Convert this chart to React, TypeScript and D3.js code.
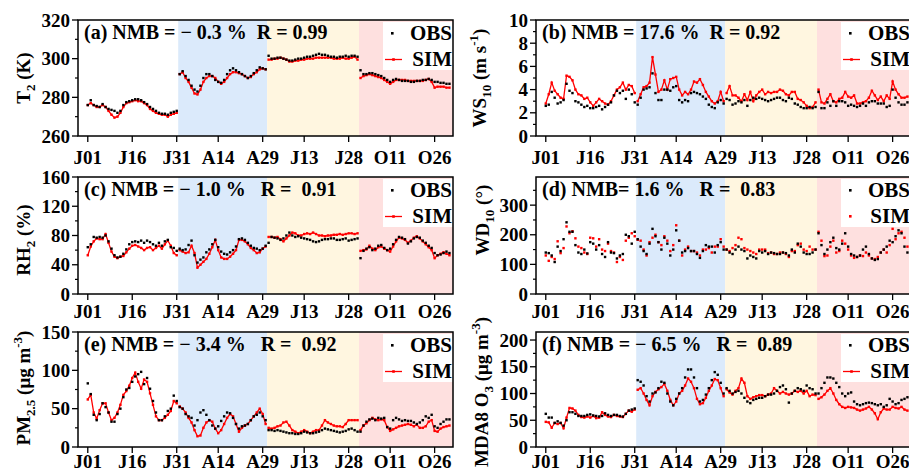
import React from "react";
import * as d3 from "d3";

// calendar layout: Jan, Apr, Jul, Oct concatenated (day index 0..122)
const MONTH_LENGTHS = [31, 30, 31, 31];
const TICK_LABELS = ["J01", "J16", "J31", "A14", "A29", "J13", "J28", "O11", "O26"];
const TICK_DAYS = [0, 15, 30, 44, 59, 73, 88, 102, 117];

const T2_OBS = [
  276, 278.5, 276, 275.5, 275, 276.5, 275, 274, 273.5, 273, 272, 273, 276, 277.5, 278, 278.5, 279, 279, 278.5, 277.5, 276.5, 275, 274, 273, 272, 271.5, 271.5, 271, 272, 272.5, 273,
  292, 293.5, 291, 289, 286, 284, 283, 286, 290, 292, 292, 291, 289, 288, 287.5, 289, 292, 294, 295, 294, 293, 292, 291, 290, 291, 292.5, 294, 295.5, 295, 294.5,
  301.5, 300, 300, 300.5, 300.5, 300, 299.5, 299, 299, 299.5, 300, 300, 300.5, 301, 301, 301.5, 302, 302.5, 302, 302, 301.5, 301, 301, 300.5, 301, 301, 301.5, 301, 301.5, 301.5, 301,
  294, 292, 292, 292.5, 292.5, 292, 291.5, 291, 290, 289, 288, 289, 289.5, 289, 288.5, 288.5, 288.5, 288, 288, 288.5, 288.5, 289, 289, 289.5, 289, 288, 288, 287.5, 287.5, 287, 287,
];
const T2_SIM = [
  276, 277, 276, 275, 275, 276, 275, 273, 271, 269.5, 270, 272, 275, 277, 277.5, 278, 278.5, 278, 278, 277, 276, 274, 273, 272, 271.5, 271, 271, 270, 271, 271.5, 272,
  292, 293, 290, 288, 285, 282, 281.5, 284, 288, 290, 291, 291, 290, 288, 287, 288, 290, 292, 293, 293, 292.5, 292, 291, 290, 290.5, 292, 293, 294.5, 295, 294.5,
  299.5, 299.5, 300, 300, 300.5, 300, 299.5, 298.5, 298.5, 299, 299, 299.5, 299.5, 300, 300, 300, 300.5, 300.5, 300.5, 300.5, 300.5, 300.5, 300, 300, 300, 300.5, 300, 300, 300.5, 301, 299.5,
  290, 291, 291.5, 292, 291.5, 291, 290.5, 290, 289, 288, 287, 288, 289, 289, 289, 289, 288.5, 288.5, 288.5, 288.5, 288.5, 288.5, 289, 289.5, 288, 285, 285.5, 285.5, 285.5, 285, 285,
];

const WS_OBS = [
  2.6, 2.7, 3.8, 3.3, 2.8, 2.9, 3.1, 4.5, 3.9, 3.7, 3.0, 2.9, 2.7, 2.5, 2.6, 2.4, 2.4, 2.5, 2.6, 2.3, 2.5, 2.7, 2.9, 3.5, 3.9, 3.7, 3.9, 3.2, 4.0, 3.6, 2.9,
  2.7, 3.3, 4.0, 4.1, 4.2, 5.4, 3.7, 3.1, 3.1, 4.0, 4.0, 3.9, 4.2, 4.3, 3.1, 2.9, 3.1, 3.0, 3.7, 3.8, 3.7, 3.6, 3.4, 3.2, 2.7, 2.5, 2.4, 2.9, 3.1, 2.8,
  3.2, 3.1, 2.7, 2.8, 3.0, 2.9, 3.1, 2.6, 3.1, 3.3, 3.2, 3.3, 3.2, 3.1, 3.0, 3.1, 3.2, 3.3, 3.3, 3.1, 3.0, 3.3, 3.2, 2.8, 2.7, 2.5, 2.4, 2.4, 2.5, 2.4, 2.5,
  3.8, 2.4, 2.4, 2.9, 2.6, 3.0, 2.6, 3.0, 3.0, 2.9, 2.6, 2.7, 2.6, 2.5, 2.6, 2.8, 2.6, 2.9, 3.0, 3.0, 2.8, 2.8, 2.8, 2.5, 2.6, 4.0, 3.3, 2.9, 2.7, 2.7, 2.9,
];
const WS_SIM = [
  2.8, 3.6, 4.6, 3.9, 3.6, 3.3, 3.2, 5.2, 5.1, 4.8, 4.0, 3.6, 3.5, 3.2, 3.3, 2.9, 2.6, 2.9, 3.2, 3.0, 2.8, 2.7, 3.0, 3.5, 4.0, 4.2, 4.6, 4.0, 4.4, 4.3, 3.7,
  3.0, 3.6, 4.2, 4.3, 4.6, 6.8, 5.3, 3.8, 4.0, 4.8, 4.0, 4.9, 5.0, 5.1, 4.0, 3.5, 3.8, 3.6, 4.0, 4.7, 4.6, 4.9, 4.4, 3.8, 3.4, 3.0, 2.8, 3.0, 3.8, 3.0,
  3.7, 4.3, 3.5, 3.5, 3.3, 3.0, 3.6, 3.1, 3.8, 3.0, 3.5, 3.8, 4.0, 3.6, 3.8, 3.7, 3.8, 3.8, 4.0, 3.9, 3.6, 3.5, 3.8, 3.8, 3.2, 3.1, 2.9, 2.6, 2.4, 2.5, 2.9,
  4.0, 2.9, 2.8, 3.2, 3.6, 3.0, 2.9, 3.2, 3.3, 3.8, 3.4, 3.3, 3.5, 2.8, 2.8, 2.9, 3.0, 3.3, 3.9, 3.5, 3.1, 3.4, 3.0, 3.5, 3.2, 4.7, 4.0, 3.6, 3.3, 3.3, 3.4,
];

const RH_OBS = [
  64, 68, 78, 77, 78, 77, 80, 72, 62, 53, 50, 51, 55, 61, 68, 71, 72, 71, 73, 70, 73, 71, 68, 66, 70, 66, 72, 74, 64, 63, 59,
  62, 60, 61, 67, 73, 53, 43, 47, 50, 57, 61, 68, 74, 64, 58, 55, 54, 57, 60, 65, 75, 76, 74, 70, 66, 63, 62, 60, 62, 66,
  70, 78, 77, 76, 74, 76, 80, 84, 80, 78, 79, 77, 76, 75, 74, 72, 71, 72, 74, 75, 75, 76, 76, 74, 74, 75, 76, 73, 74, 75, 76,
  49, 59, 62, 64, 60, 62, 66, 67, 63, 60, 62, 68, 74, 78, 77, 75, 69, 72, 76, 78, 77, 73, 70, 66, 63, 56, 53, 54, 56, 58, 56,
];
const RH_SIM = [
  53, 65, 72, 76, 75, 75, 82, 70, 58, 51, 49, 51, 52, 57, 62, 66, 67, 65, 63, 60, 63, 64, 60, 63, 66, 62, 68, 73, 66, 56, 53,
  60, 58, 56, 57, 66, 56, 36, 40, 44, 48, 55, 64, 74, 60, 50, 48, 48, 51, 55, 60, 74, 74, 72, 68, 63, 60, 56, 57, 62, 65,
  78, 78, 77, 78, 75, 72, 76, 80, 84, 83, 80, 80, 82, 83, 82, 84, 82, 80, 80, 79, 80, 80, 81, 81, 82, 81, 82, 83, 83, 82, 83,
  59, 60, 61, 66, 62, 60, 64, 65, 62, 60, 58, 65, 72, 77, 76, 74, 70, 73, 77, 79, 76, 72, 68, 64, 60, 49, 53, 55, 57, 55, 53,
];

const WD_OBS = [
  140, 138, 130, 108, 160, 145, 185, 242, 210, 210, 165, 140, 135, 150, 137, 175, 170, 150, 165, 135, 125, 175, 140, 138, 120, 130, 135, 200, 195, 170, 210,
  185, 160, 145, 135, 170, 220, 195, 175, 150, 190, 170, 130, 150, 215, 180, 140, 145, 155, 145, 145, 135, 122, 145, 165, 160, 160, 140, 165, 175, 150,
  150, 140, 135, 150, 160, 150, 145, 120, 130, 125, 120, 145, 140, 145, 135, 140, 138, 135, 135, 140, 138, 130, 150, 140, 170, 160, 140, 135, 135, 140, 150,
  205, 165, 135, 150, 175, 190, 155, 150, 170, 205, 160, 135, 130, 125, 130, 150, 160, 135, 120, 115, 118, 140, 150, 160, 180, 175, 195, 215, 205, 160, 140,
];
const WD_SIM = [
  130, 112, 125, 118, 178, 138, 155, 228, 205, 212, 188, 160, 155, 140, 135, 190, 188, 160, 185, 150, 145, 170, 145, 140, 108, 125, 115, 180, 190, 205, 195,
  183, 180, 150, 130, 175, 190, 200, 175, 165, 195, 180, 145, 165, 232, 180, 130, 150, 160, 145, 145, 140, 130, 150, 150, 155, 140, 160, 160, 185, 160,
  150, 145, 155, 165, 190, 185, 155, 150, 145, 140, 135, 150, 150, 150, 138, 140, 135, 135, 140, 140, 135, 125, 145, 145, 165, 170, 150, 145, 160, 150, 150,
  210, 180, 128, 130, 160, 180, 140, 145, 180, 170, 150, 130, 122, 125, 130, 128, 140, 130, 120, 118, 125, 140, 150, 140, 165, 220, 185, 205, 210, 190, 160,
];

const PM_OBS = [
  83, 69, 42, 35, 43, 57, 52, 45, 33, 33, 43, 50, 65, 75, 77, 85, 92, 95, 98, 82, 90, 76, 60, 45, 35, 35, 40, 47, 50, 67, 60,
  52, 50, 43, 40, 38, 28, 35, 45, 48, 42, 35, 28, 24, 27, 34, 40, 45, 44, 38, 30, 24, 27, 28, 30, 35, 40, 42, 45, 40, 35,
  22, 22, 21, 22, 21, 20, 19, 18, 18, 17, 17, 18, 20, 19, 18, 18, 19, 20, 22, 24, 23, 22, 21, 20, 19, 20, 21, 23, 24, 22, 20,
  20, 28, 33, 36, 37, 35, 38, 37, 38, 26, 24, 35, 38, 36, 34, 35, 34, 34, 32, 30, 32, 35, 40, 38, 42, 27, 25, 30, 33, 36, 36,
];
const PM_SIM = [
  62, 68, 45, 37, 48, 57, 57, 45, 35, 38, 45, 55, 68, 73, 80, 90, 97, 85, 76, 88, 85, 70, 55, 40, 35, 35, 38, 42, 47, 60, 57,
  53, 50, 45, 38, 32, 22, 14, 15, 25, 32, 35, 33, 24, 18, 22, 30, 38, 43, 40, 30, 20, 25, 28, 30, 35, 40, 45, 50, 43, 30,
  25, 24, 25, 27, 28, 32, 33, 28, 22, 20, 18, 20, 22, 20, 18, 20, 22, 22, 28, 35, 32, 30, 28, 27, 27, 26, 30, 35, 35, 35, 35,
  22, 28, 31, 35, 38, 36, 35, 36, 35, 26, 21, 23, 25, 27, 28, 29, 30, 29, 27, 29, 25, 25, 27, 33, 35, 21, 20, 24, 26, 27, 28,
];

const O3_OBS = [
  62, 55, 55, 45, 48, 45, 40, 50, 65, 65, 62, 58, 58, 58, 60, 61, 59, 58, 57, 58, 63, 60, 58, 60, 60, 58, 57, 62, 68, 70, 72,
  125, 122, 115, 95, 85, 100, 102, 110, 122, 120, 100, 85, 78, 90, 100, 110, 130, 145, 145, 130, 110, 85, 88, 98, 110, 125, 140, 135, 120, 100,
  110, 105, 100, 103, 105, 100, 92, 85, 82, 88, 90, 92, 92, 95, 98, 98, 100, 105, 112, 115, 108, 83, 100, 105, 110, 108, 105, 115, 110, 108, 100,
  100, 110, 120, 130, 130, 128, 120, 112, 100, 95, 100, 102, 85, 80, 78, 80, 82, 83, 82, 80, 78, 80, 75, 78, 90, 85, 80, 82, 88, 90, 93,
];
const O3_SIM = [
  47, 46, 36, 45, 43, 45, 35, 55, 73, 72, 68, 60, 56, 55, 57, 55, 58, 54, 55, 65, 60, 57, 56, 60, 58, 57, 56, 62, 68, 66, 70,
  107, 110, 100, 88, 78, 95, 103, 108, 112, 118, 105, 88, 78, 85, 100, 105, 115, 128, 122, 110, 90, 80, 82, 92, 105, 115, 127, 125, 110, 95,
  108, 102, 98, 105, 110, 128, 120, 95, 90, 93, 95, 97, 97, 95, 98, 100, 110, 105, 100, 103, 100, 98, 100, 105, 103, 105, 100, 105, 95, 98, 97,
  90, 93, 98, 105, 110, 100, 88, 80, 75, 73, 75, 74, 73, 70, 68, 70, 72, 75, 70, 63, 52, 65, 72, 70, 70, 75, 73, 72, 75, 70, 68,
];

const FONT = "'Liberation Serif', 'Times New Roman', serif";
const PANEL_W = 375;
const X_DOMAIN = [-3.3, 123.2];
const SHADES = ["#dbeafb", "#fff6e0", "#fee0df"];

// label pieces: [text, shift] where shift 0 = normal, 1 = subscript, -1 = superscript
type Piece = [string, number];

const PANELS = [
  {
    left: 78, top: 20, bottom: 136, yDomain: [260, 320], major: [260, 280, 300, 320], minor: [270, 290, 310],
    obs: T2_OBS, sim: T2_SIM, dotsOnly: false, text: "(a) NMB = \u2212 0.3 %  R = 0.99", xlab: 28,
    ylab: { x: 24, y: 78, p: [["T", 0], ["2", 1], [" (K)", 0]] as Piece[] },
  },
  {
    left: 536, top: 20, bottom: 136, yDomain: [0, 10], major: [0, 2, 4, 6, 8, 10], minor: [1, 3, 5, 7, 9],
    obs: WS_OBS, sim: WS_SIM, dotsOnly: false, text: "(b) NMB = 17.6 %  R = 0.92", xlab: 28,
    ylab: { x: 480, y: 78, p: [["WS", 0], ["10", 1], [" (m s", 0], ["-1", -1], [")", 0]] as Piece[] },
  },
  {
    left: 78, top: 177, bottom: 294, yDomain: [0, 160], major: [0, 40, 80, 120, 160], minor: [20, 60, 100, 140],
    obs: RH_OBS, sim: RH_SIM, dotsOnly: false, text: "(c) NMB = \u2212 1.0 %   R =  0.91", xlab: 24,
    ylab: { x: 24, y: 240, p: [["RH", 0], ["2", 1], [" (%)", 0]] as Piece[] },
  },
  {
    left: 536, top: 177, bottom: 294, yDomain: [0, 395], major: [0, 100, 200, 300], minor: [50, 150, 250, 350],
    obs: WD_OBS, sim: WD_SIM, dotsOnly: true, text: "(d) NMB= 1.6 %   R =  0.83", xlab: 24,
    ylab: { x: 483, y: 220, p: [["WD", 0], ["10", 1], [" (°)", 0]] as Piece[] },
  },
  {
    left: 78, top: 332, bottom: 447, yDomain: [0, 150], major: [0, 50, 100, 150], minor: [25, 75, 125],
    obs: PM_OBS, sim: PM_SIM, dotsOnly: false, text: "(e) NMB = \u2212 3.4 %   R =  0.92", xlab: 21,
    ylab: { x: 24, y: 388, p: [["PM", 0], ["2.5", 1], [" (μg m", 0], ["-3", -1], [")", 0]] as Piece[] },
  },
  {
    left: 536, top: 332, bottom: 447, yDomain: [0, 215], major: [0, 50, 100, 150, 200], minor: [25, 75, 125, 175],
    obs: O3_OBS, sim: O3_SIM, dotsOnly: false, text: "(f) NMB = \u2212 6.5 %   R =  0.89", xlab: 21,
    ylab: { x: 482, y: 392, p: [["MDA8 O", 0], ["3", 1], [" (μg m", 0], ["-3", -1], [")", 0]] as Piece[] },
  },
];

// day index ranges of each month
const MONTHS = MONTH_LENGTHS.map((len, m) => {
  const start = d3.sum(MONTH_LENGTHS.slice(0, m));
  return d3.range(start, start + len);
});

function Label({ pieces }: { pieces: Piece[] }) {
  const SHIFT: Record<number, number> = { 0: 0, 1: 5, [-1]: -8 };
  let cur = 0;
  return (
    <>
      {pieces.map(([t, s], k) => {
        const dy = SHIFT[s] - cur;
        cur = SHIFT[s];
        return (
          <tspan key={k} dy={dy} fontSize={s === 0 ? 19 : 13}>{t}</tspan>
        );
      })}
    </>
  );
}

function Panel({ p }: { p: any }) {
  const right = p.left + PANEL_W;
  const x = d3.scaleLinear().domain(X_DOMAIN).range([p.left, right]);
  const y = d3.scaleLinear().domain(p.yDomain).range([p.bottom, p.top]);
  const line = d3.line<number>().x((i) => x(i)).y((i) => y(p.sim[i]));
  const bounds = [MONTHS[1][0] - 0.5, MONTHS[2][0] - 0.5, MONTHS[3][0] - 0.5, X_DOMAIN[1]];
  const boxX = right - 70;

  return (
    <g>
      {SHADES.map((c, k) => (
        <rect key={k} x={x(bounds[k])} y={p.top} width={x(bounds[k + 1]) - x(bounds[k])} height={p.bottom - p.top} fill={c} />
      ))}
      {!p.dotsOnly && MONTHS.map((idx, m) => (
        <path key={m} d={line(idx) || ""} fill="none" stroke="#ff0000" strokeWidth={1.3} />
      ))}
      {p.sim.map((v: number, i: number) => (
        <rect key={"s" + i} x={x(i) - 1.2} y={y(v) - 1.2} width={2.4} height={2.4} fill="#ff0000" />
      ))}
      {p.obs.map((v: number, i: number) => (
        <rect key={"o" + i} x={x(i) - 1.2} y={y(v) - 1.2} width={2.4} height={2.4} fill="#000" />
      ))}

      {/* legend */}
      <rect x={boxX} y={p.top + 2} width={70} height={48} fill="#fff" />
      <rect x={boxX + 8} y={p.top + 12} width={2.6} height={2.6} fill="#000" />
      {p.dotsOnly ? (
        <rect x={boxX + 8} y={p.top + 38} width={2.6} height={2.6} fill="#ff0000" />
      ) : (
        <>
          <line x1={boxX + 2} x2={boxX + 19} y1={p.top + 39.5} y2={p.top + 39.5} stroke="#ff0000" strokeWidth={1.3} />
          <rect x={boxX + 9.2} y={p.top + 38.2} width={2.6} height={2.6} fill="#ff0000" />
        </>
      )}
      <text x={right - 1} y={p.top + 20} textAnchor="end" fontFamily={FONT} fontWeight="bold" fontSize={21}>OBS</text>
      <text x={right - 1} y={p.top + 46} textAnchor="end" fontFamily={FONT} fontWeight="bold" fontSize={21}>SIM</text>

      <text x={p.left + 6} y={p.top + 19} fontFamily={FONT} fontWeight="bold" fontSize={20} style={{ whiteSpace: "pre" }}>
        {p.text}
      </text>

      {/* frame */}
      <rect x={p.left} y={p.top} width={PANEL_W} height={p.bottom - p.top} fill="none" stroke="#000" strokeWidth={1.5} />

      {/* y axis */}
      {p.major.map((t: number) => (
        <g key={"y" + t}>
          <line x1={p.left - 6} x2={p.left} y1={y(t)} y2={y(t)} stroke="#000" strokeWidth={1.3} />
          <text x={p.left - 8} y={y(t)} dy="0.35em" textAnchor="end" fontFamily={FONT} fontWeight="bold" fontSize={19}>{t}</text>
        </g>
      ))}
      {p.minor.map((t: number) => (
        <line key={"m" + t} x1={p.left - 3} x2={p.left} y1={y(t)} y2={y(t)} stroke="#000" strokeWidth={1.2} />
      ))}

      {/* x axis */}
      {TICK_DAYS.map((d, k) => (
        <g key={"x" + d}>
          <line x1={x(d)} x2={x(d)} y1={p.bottom} y2={p.bottom + 6} stroke="#000" strokeWidth={1.3} />
          <text x={x(d)} y={p.bottom + p.xlab} textAnchor="middle" fontFamily={FONT} fontWeight="bold" fontSize={19}>{TICK_LABELS[k]}</text>
        </g>
      ))}

      <text
        transform={`translate(${p.ylab.x + 6},${p.ylab.y}) rotate(-90)`}
        textAnchor="middle" fontFamily={FONT} fontWeight="bold" fontSize={19}
      >
        <Label pieces={p.ylab.p} />
      </text>
    </g>
  );
}

export default function App() {
  return (
    <svg width={909} height={476} style={{ position: "absolute", left: 0, top: 0, background: "#fff" }}>
      <rect width={909} height={476} fill="#fff" />
      {PANELS.map((p, k) => <Panel key={k} p={p} />)}
    </svg>
  );
}
